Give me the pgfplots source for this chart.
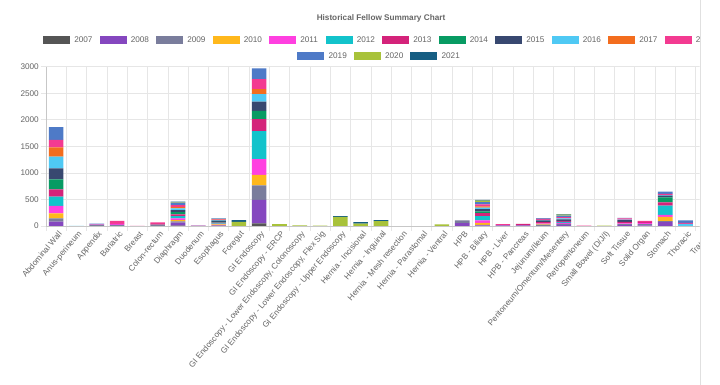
\documentclass[border=0pt]{standalone}
\usepackage{pgfplots}
\pgfplotsset{compat=1.18}
\usepackage{pgfplotstable}
\usepackage{fontspec}
\setmainfont{Liberation Sans}
\definecolor{txt}{HTML}{666666}
\definecolor{grd}{HTML}{E6E6E6}
\definecolor{c2007}{HTML}{555555}
\definecolor{c2008}{HTML}{8547BF}
\definecolor{c2009}{HTML}{7A7D9C}
\definecolor{c2010}{HTML}{FFB81C}
\definecolor{c2011}{HTML}{FF40E0}
\definecolor{c2012}{HTML}{12C3CB}
\definecolor{c2013}{HTML}{D4237A}
\definecolor{c2014}{HTML}{079B63}
\definecolor{c2015}{HTML}{384870}
\definecolor{c2016}{HTML}{4FC9F4}
\definecolor{c2017}{HTML}{F36D1E}
\definecolor{c2018}{HTML}{F33A91}
\definecolor{c2019}{HTML}{4E7AC7}
\definecolor{c2020}{HTML}{A8C23A}
\definecolor{c2021}{HTML}{165E83}
\newcommand{\lbl}{\fontsize{8.2}{9.8}\selectfont}
\pgfplotstableread{
cat y2007 y2008 y2009 y2010 y2011 y2012 y2013 y2014 y2015 y2016 y2017 y2018 y2019 y2020 y2021
0   0  82  62  95 138 176 138 188 207 220 176 138 240   0   0
1   0   0   0   0   0   0   0   0   0   4   0   0   0   0   0
2   0   0  25   0  10   0   0   0   0   0   0   0  10   0   0
3   0   0  20   0  20   0   0   0   0   0   0  55   0   0   0
4   0   0   0   0   0   0   0   0   0   0   0   3   0   0   0
5   0   0  25   0   0   0  15   0   0   0   0  30   0   0   0
6   5  60  20  25  35  40  35  40  40  30  30  35  45  10   8
7   0   0   5   0   5   0   0   0   0   0   0   0   0   0   0
8   0  10   0  20  10  10  15  15  20  10  10  10  10   0   5
9   0   0   0   0   0   0   0   0   0   0   0   0   0  80  30
10 50 440 276 195 300 527 226 156 170 145  94 188 202   0   0
11  0   0   0   0   0   0   0   0   0   0   0   0   0  35   0
12  0   0   0   0   0   0   0   0   0   0   0   0   0  10   0
13  0   0   0   0   0   0   0   0   0   0   0   0   0   5   0
14  0   0   0   0   0   0   0   0   0   0   0   0   0 170  15
15  0   0   0   0   0   0   0   0   0   0   0   0   0  45  30
16  0   0   0   0   0   0   0   0   0   0   0   0   0  90  20
17  0   0   0   0   0   0   0   0   0   0   0   0   0   0   0
18  0   0   0   0   0   0   0   0   0   0   0   0   0   0   0
19  0   0   0   0   0   0   0   0   0   0   0   0   0  30   0
20  0  55  50   0   0   0   0   0   0   0   0   0   0   0   0
21  0  10  10  40  44  80  60  30  44  30  20  40  40  30  12
22  0  10   0   0   0   0   0   0   0   0   0  25   0   0   0
23  0  10   0   0   0   0  30   0   0   0   0   0   0   0   0
24  0   0  25  15  10   0  25   0  30  10   0  20  10   0   5
25  0  20  20   0  20  20  15   0  30  20   0  20  30  20  10
26  0   0   0   0   0   0   0   0   0   0   0   8   0   0   0
27  0   0   0   0   0   0   0   0   0   0   0   0   0   5   0
28  0  15  20   0  15   0  30   0  30  10   0  25  10   0   0
29  0  10  25   0  25   0  20   0   0   0   0  15   0   0   0
30  0  80  10  80  38 176  63  94  31  10   0  25  38   0   0
31  0   0   0   0   0   0   0   0   0  40   0  20  45   0   0
32  0   0   0   0   0   0   0   0   0   0   0   0   0   0   0
}\datatable
\begin{document}
\begin{tikzpicture}[x=1pt,y=1pt]
\useasboundingbox (0,0) rectangle (720,385);
\fill[white] (0,0) rectangle (720,385);
\coordinate (SW) at (46,159);
\begin{scope}
\clip (0,0) rectangle (699.5,385);
\node[font=\lbl\bfseries, text=txt] at (381,367) {Historical Fellow Summary Chart};
\foreach \yr [count=\i from 0] in {2007,2008,2009,2010,2011,2012,2013,2014,2015,2016,2017,2018} {
  \fill[c\yr] (43+56.5*\i,340.9) rectangle ++(27,8.2);
  \node[anchor=west, inner sep=0pt, text=txt, font=\lbl] at (43+56.5*\i+31.1,345) {\yr};
}
\foreach \yr [count=\i from 0] in {2019,2020,2021} {
  \fill[c\yr] (297.3+56.5*\i,324.9) rectangle ++(27,8.2);
  \node[anchor=west, inner sep=0pt, text=txt, font=\lbl] at (297.3+56.5*\i+31.1,329) {\yr};
}
\begin{axis}[
  at={(SW)}, anchor=south west,
  scale only axis, width=670pt, height=159.3pt,
  xmin=-0.5, xmax=32.5, ymin=0, ymax=3000,
  ybar stacked, bar width=14.6pt,
  axis x line*=bottom, axis y line*=left,
  axis line style={draw=black!22},
  xtick={0,...,32},
  xticklabels={Abdominal Wall,Anus-perineum,Appendix,Bariatric,Breast,Colon-rectum,Diaphragm,Duodenum,Esophagus,Foregut,GI Endoscopy,GI Endoscopy - ERCP,{GI Endoscopy - Lower Endoscopy, Colonoscopy},{GI Endoscopy - Lower Endoscopy, Flex Sig},GI Endoscopy - Upper Endoscopy,Hernia - Incisional,Hernia - Inguinal,Hernia - Mesh resection,Hernia - Parastomal,Hernia - Ventral,HPB,HPB - Biliary,HPB - Liver,HPB - Pancreas,Jejunum/Ileum,Peritoneum/Omentum/Mesentery,Retroperitoneum,Small Bowel (D/J/I),Soft Tissue,Solid Organ,Stomach,Thoracic,Trauma},
  minor xtick={-0.5,0.5,...,32.5},
  xminorgrids, ymajorgrids,
  grid style={draw=grd, line width=0.6pt},
  minor grid style={draw=grd, line width=0.6pt},
  major x tick style={draw=none},
  minor x tick style={draw=grd, line width=0.6pt},
  ytick style={draw=grd, line width=0.6pt},
  tick align=outside, major tick length=5pt, minor tick length=5pt,
  ytick={0,500,1000,1500,2000,2500,3000},
  yticklabels={0,500,1000,1500,2000,2500,3000},
  yticklabel style={anchor=east, inner sep=0pt, font=\lbl, text=txt, xshift=-2pt},
  xticklabel style={rotate=50, anchor=east, inner sep=0pt, font=\lbl, text=txt, xshift=1.5pt, yshift=-4pt},
  clip=false,
]
\pgfplotsinvokeforeach{2007,2008,2009,2010,2011,2012,2013,2014,2015,2016,2017,2018,2019,2020,2021}{
  \addplot[fill=c#1, draw=none] table[x=cat, y=y#1] {\datatable};
}
\end{axis}
\end{scope}
\draw[black!12, line width=0.8pt] (700,0) -- (700,385);
\end{tikzpicture}
\end{document}
